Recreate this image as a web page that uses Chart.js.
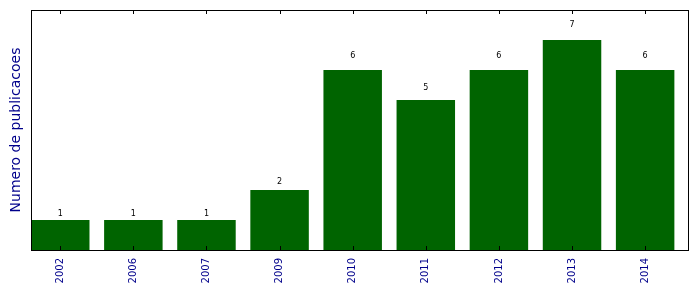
<!DOCTYPE html>
<html>
<head>
<meta charset="utf-8">
<script src="https://cdn.jsdelivr.net/npm/chart.js@4"></script>
<style>
  html, body { margin: 0; padding: 0; background: #fff; }
  #wrap { width: 699px; height: 292px; }
</style>
</head>
<body>
<div id="wrap"><canvas id="pubChart"></canvas></div>
<script>
// dados
const anos = ['2002', '2006', '2007', '2009', '2010', '2011', '2012', '2013', '2014'];
const publicacoes = [1, 1, 1, 2, 6, 5, 6, 7, 6];
const yTitulo = 'Numero de publicacoes';

const pontos = publicacoes.map((v, i) => ({ x: i + 0.4, y: v }));

// moldura, ticks para dentro, rotulos dos valores e titulo do eixo y
const extras = {
    id: 'extras',
    afterDatasetsDraw(chart) {
        const { ctx, chartArea: a, scales: { x, y } } = chart;
        ctx.save();
        ctx.strokeStyle = '#000';
        ctx.lineWidth = 1;
        ctx.strokeRect(a.left + 0.5, a.top + 0.5, a.right - a.left - 1, a.bottom - a.top);
        ctx.beginPath();
        anos.forEach((_, i) => {
            const px = Math.round(x.getPixelForValue(i + 0.4)) + 0.5;
            ctx.moveTo(px, a.bottom); ctx.lineTo(px, a.bottom - 4);
            ctx.moveTo(px, a.top); ctx.lineTo(px, a.top + 4);
        });
        ctx.stroke();

        ctx.fillStyle = '#000';
        ctx.font = '8px "DejaVu Sans"';
        ctx.textAlign = 'center';
        ctx.textBaseline = 'bottom';
        publicacoes.forEach((v, i) => {
            ctx.fillText(String(v), x.getPixelForValue(i + 0.4), y.getPixelForValue(v * 1.05) - 1);
        });

        ctx.translate(16, (a.top + a.bottom) / 2);
        ctx.rotate(-Math.PI / 2);
        ctx.fillStyle = '#00008b';
        ctx.font = '14px "DejaVu Sans"';
        ctx.textBaseline = 'middle';
        ctx.fillText(yTitulo, 0, 0);
        ctx.restore();
    }
};

new Chart(document.getElementById('pubChart'), {
    type: 'bar',
    data: {
        datasets: [{
            data: pontos,
            backgroundColor: '#006400',
            borderWidth: 0,
            categoryPercentage: 1,
            barPercentage: 0.8
        }]
    },
    options: {
        responsive: true,
        maintainAspectRatio: false,
        animation: false,
        layout: { padding: { top: 10, right: 10, left: 0, bottom: 0 } },
        plugins: { legend: { display: false }, tooltip: { enabled: false } },
        scales: {
            x: {
                type: 'linear',
                offset: false,
                min: 0,
                max: 9,
                grid: { display: false },
                border: { display: false },
                afterBuildTicks: (scale) => {
                    scale.ticks = anos.map((_, i) => ({ value: i + 0.4 }));
                },
                afterFit: (scale) => { scale.height = 42; },
                ticks: {
                    autoSkip: false,
                    minRotation: 90,
                    maxRotation: 90,
                    padding: 0,
                    color: '#00008b',
                    font: { family: 'DejaVu Sans', size: 10 },
                    callback: (val) => anos[Math.round(val - 0.4)]
                }
            },
            y: {
                min: 0,
                max: 8,
                grid: { display: false },
                border: { display: false },
                ticks: { display: false },
                afterFit: (scale) => { scale.width = 31; }
            }
        }
    },
    plugins: [extras]
});
</script>
</body>
</html>
